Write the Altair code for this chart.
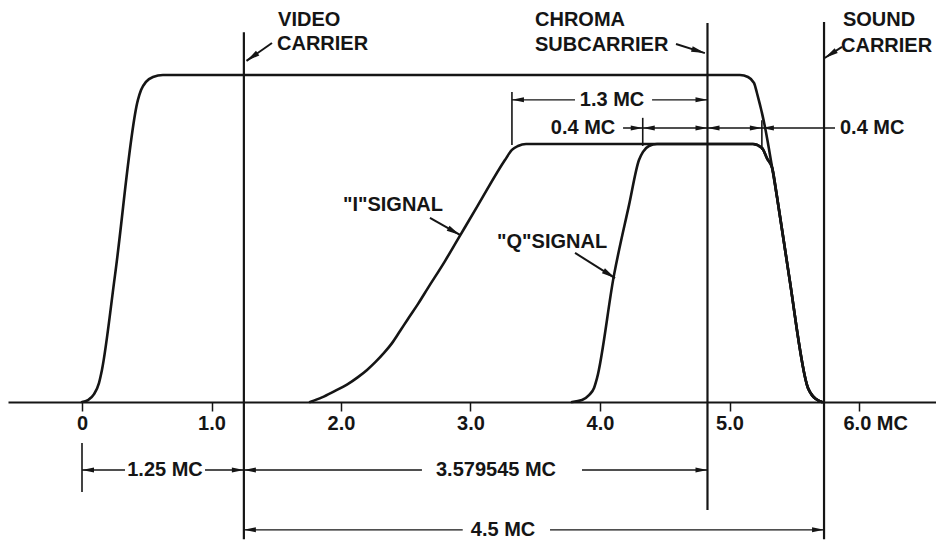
import math
import altair as alt
import pandas as pd

# ---------------- data (x in MC, y = relative amplitude) ----------------
lum_x = [0, 0.046, 0.093, 0.131, 0.154, 0.255, 0.432, 0.456, 0.494, 0.548, 0.625,
         5.081, 5.143, 5.189, 5.212, 5.274, 5.33, 5.367, 5.459, 5.606, 5.637, 5.668, 5.714]
lum_y = [0, 0.006, 0.024, 0.058, 0.098, 0.388, 0.924, 0.954, 0.979, 0.994, 1.0,
         1.0, 0.994, 0.976, 0.945, 0.841, 0.715, 0.627, 0.388, 0.043, 0.021, 0.009, 0]

i_x = [1.761, 1.853, 1.954, 2.046, 2.131, 2.201, 2.263, 2.332, 2.394, 2.456, 2.517, 2.595,
       2.672, 2.803, 2.903, 3.058, 3.266, 3.32, 3.367, 3.429,
       5.181, 5.251, 5.29, 5.33, 5.367, 5.459, 5.606, 5.637, 5.668, 5.714]
i_y = [0, 0.014, 0.034, 0.053, 0.076, 0.098, 0.121, 0.15, 0.18, 0.217, 0.254, 0.3,
       0.349, 0.431, 0.498, 0.602, 0.74, 0.771, 0.783, 0.789,
       0.789, 0.777, 0.745, 0.715, 0.627, 0.388, 0.043, 0.021, 0.009, 0]

q_x = [3.784, 3.861, 3.915, 3.954, 3.977, 4.108, 4.224, 4.301, 4.332, 4.378, 4.44,
       5.181, 5.251, 5.29, 5.33, 5.367, 5.459, 5.606, 5.637, 5.668, 5.714]
q_y = [0, 0.006, 0.021, 0.043, 0.073, 0.388, 0.602, 0.74, 0.765, 0.783, 0.789,
       0.789, 0.777, 0.745, 0.715, 0.627, 0.388, 0.043, 0.021, 0.009, 0]

tick_values = [0, 1, 2, 3, 4, 5, 6]

# vertical lines: carriers and extension lines
vline_x = [1.25, 4.83, 5.73, 0.0, 3.32, 4.33, 5.25]
vline_top = [1.131, 1.159, 1.162, -0.125, 0.948, 0.869, 0.862]
vline_bottom = [-0.42, -0.33, -0.42, -0.275, 0.786, 0.783, 0.771]
vline_kind = ["carrier", "carrier", "carrier", "ext", "ext", "ext", "ext"]

# dimension lines
dim_x1 = [3.32, 4.402, 4.178, 0.0, 0.95, 1.25, 3.861, 1.25, 3.614]
dim_x2 = [3.807, 4.83, 5.815, 0.332, 1.25, 2.625, 4.83, 2.94, 5.73]
dim_y = [0.924, 0.924, 0.838, -0.208, -0.208, -0.208, -0.208, -0.391, -0.391]

# arrowheads on dimension lines (tip position, direction)
arrow_x = [3.32, 4.83, 4.33, 4.33, 4.83, 4.83, 5.25, 5.25, 0.0, 1.25, 1.25, 4.83, 1.25, 5.73]
arrow_y = [0.924, 0.924, 0.838, 0.838, 0.838, 0.838, 0.838, 0.838,
           -0.208, -0.208, -0.208, -0.208, -0.391, -0.391]
arrow_dir = ["left", "right", "right", "left", "right", "left", "right", "left",
             "left", "right", "left", "right", "left", "right"]

# leader arrows from labels
ptr_x1 = [1.467, 4.587, 5.869, 2.687, 3.807]
ptr_y1 = [1.098, 1.095, 1.086, 0.563, 0.456]
ptr_x2 = [1.27, 4.81, 5.735, 2.919, 4.116]
ptr_y2 = [1.043, 1.067, 1.052, 0.511, 0.379]

# labels
left_text = ["VIDEO", "CARRIER", "CHROMA", "SUBCARRIER", "SOUND", "CARRIER",
             '"I"SIGNAL', '"Q"SIGNAL', "0.4 MC"]
left_x = [1.514, 1.506, 3.498, 3.498, 5.876, 5.861, 2.015, 3.205, 5.853]
left_y = [1.168, 1.095, 1.168, 1.092, 1.168, 1.089, 0.602, 0.489, 0.838]

center_text = ["1.3 MC", "0.4 MC", "1.25 MC", "3.579545 MC", "4.5 MC"]
center_x = [4.093, 3.869, 0.641, 3.197, 3.251]
center_y = [0.924, 0.838, -0.208, -0.208, -0.391]

# ---------------- layout ----------------
W, H = 928, 533
PX_PER_MC = 129.5
PX_PER_UNIT = 327.0
X_ZERO_PX = 74.0
Y_ZERO_PX = 394.0
x_domain = [-X_ZERO_PX / PX_PER_MC, (W - X_ZERO_PX) / PX_PER_MC]
y_domain = [-(H - Y_ZERO_PX) / PX_PER_UNIT, Y_ZERO_PX / PX_PER_UNIT]
axis_offset = -(H - Y_ZERO_PX)

INK = "#151515"
FONT = "Liberation Sans"
ARROW = "M0,0L-2.4,-0.5L-2.4,0.5Z"

xs = alt.Scale(domain=x_domain, nice=False, zero=False)
ys = alt.Scale(domain=y_domain, nice=False, zero=False)
xaxis = alt.Axis(
    values=tick_values,
    title=None,
    grid=False,
    domainColor=INK,
    domainWidth=2,
    tickColor=INK,
    tickWidth=1.5,
    tickSize=9,
    labelFont=FONT,
    labelFontSize=20,
    labelFontWeight="bold",
    labelColor=INK,
    labelPadding=2,
    labelFlush=False,
    labelOverlap=False,
    labelExpr="datum.value == 0 ? '0' : (datum.value == 6 ? '6.0 MC' : format(datum.value, '.1f'))",
    labelAlign={"condition": {"test": "datum.value == 6", "value": "left"}, "value": "center"},
    labelOffset={"condition": {"test": "datum.value == 6", "value": -16}, "value": 0},
    offset=axis_offset,
)


def X(f):
    return alt.X(f, type="quantitative", scale=xs, axis=xaxis)


def Y(f):
    return alt.Y(f, type="quantitative", scale=ys, axis=None)


rows = []
for name, xx, yy in [("luminance", lum_x, lum_y), ("I", i_x, i_y), ("Q", q_x, q_y)]:
    for k, (a, b) in enumerate(zip(xx, yy)):
        rows.append({"series": name, "idx": k, "x": a, "y": b})
curves_df = pd.DataFrame(rows)

curves = alt.Chart(curves_df).mark_line(
    color=INK, strokeWidth=2.6, interpolate="monotone", strokeCap="round", strokeJoin="round"
).encode(x=X("x"), y=Y("y"), detail="series:N", order=alt.Order("idx:Q"))

vl_df = pd.DataFrame({"x": vline_x, "y1": vline_top, "y2": vline_bottom, "kind": vline_kind})
carriers = alt.Chart(vl_df[vl_df.kind == "carrier"]).mark_rule(color=INK, strokeWidth=2.2).encode(
    x=X("x"), y=Y("y1"), y2="y2")
exts = alt.Chart(vl_df[vl_df.kind == "ext"]).mark_rule(color=INK, strokeWidth=1.6).encode(
    x=X("x"), y=Y("y1"), y2="y2")

dim_df = pd.DataFrame({"x1": dim_x1, "x2": dim_x2, "y": dim_y})
dims = alt.Chart(dim_df).mark_rule(color=INK, strokeWidth=1.4).encode(
    x=X("x1"), x2="x2", y=Y("y"))

ptr_df = pd.DataFrame({"x1": ptr_x1, "y1": ptr_y1, "x2": ptr_x2, "y2": ptr_y2})
ptrs = alt.Chart(ptr_df).mark_rule(color=INK, strokeWidth=2).encode(
    x=X("x1"), x2="x2", y=Y("y1"), y2="y2")

ang = []
for a, b, c, d in zip(ptr_x1, ptr_y1, ptr_x2, ptr_y2):
    ang.append(math.degrees(math.atan2(-(d - b) * PX_PER_UNIT, (c - a) * PX_PER_MC)) % 360)
heads_df = pd.DataFrame({
    "x": arrow_x + ptr_x2,
    "y": arrow_y + ptr_y2,
    "angle": [0 if d == "right" else 180 for d in arrow_dir] + ang,
    "size": [100] * len(arrow_x) + [130] * len(ptr_x2),
})
heads = alt.Chart(heads_df).mark_point(
    filled=True, shape=ARROW, color=INK, opacity=1, strokeWidth=0
).encode(x=X("x"), y=Y("y"), angle=alt.Angle("angle:Q", scale=None),
         size=alt.Size("size:Q", scale=None))

lt_df = pd.DataFrame({"x": left_x, "y": left_y, "t": left_text})
ltext = alt.Chart(lt_df).mark_text(
    align="left", baseline="middle", font=FONT, fontSize=20, fontWeight="bold", color=INK
).encode(x=X("x"), y=Y("y"), text="t:N")

ct_df = pd.DataFrame({"x": center_x, "y": center_y, "t": center_text})
ctext = alt.Chart(ct_df).mark_text(
    align="center", baseline="middle", font=FONT, fontSize=20, fontWeight="bold", color=INK
).encode(x=X("x"), y=Y("y"), text="t:N")

chart = alt.layer(curves, carriers, exts, dims, ptrs, heads, ltext, ctext).properties(
    width=W, height=H, autosize=alt.AutoSizeParams(type="none"), padding=0,
    background="white",
).configure_view(stroke=None)

chart.save("out.html", embed_options={"renderer": "svg", "actions": False})
